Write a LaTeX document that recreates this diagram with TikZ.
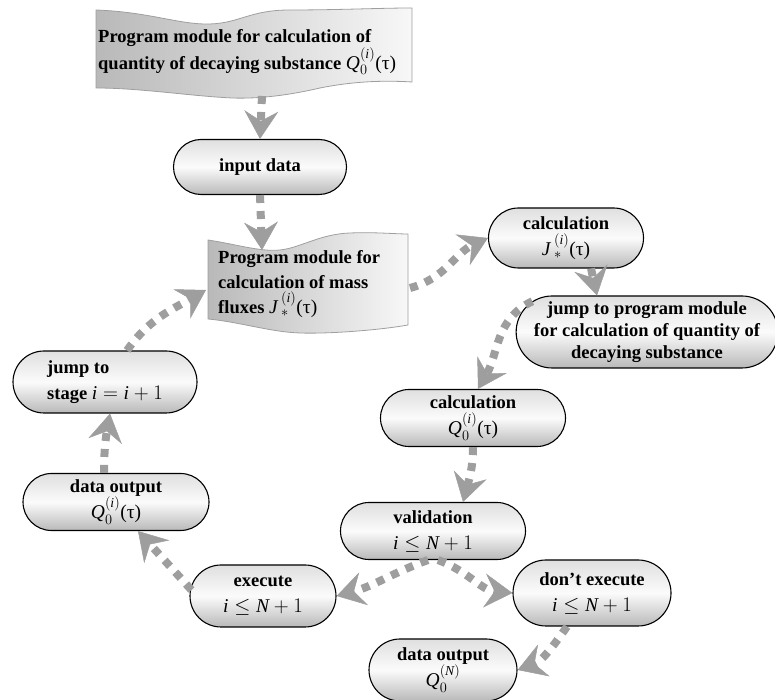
\documentclass[tikz,border=0pt]{standalone}
\usepackage{amsmath}
\usepackage{fontspec}
\setmainfont{Liberation Serif}
\usetikzlibrary{shapes.misc,arrows.meta,calc}
\definecolor{ag}{RGB}{158,158,158}
\newcommand{\mf}{\normalfont\fontsize{19.5}{24}\selectfont}
\newcommand{\mQ}{{\mf$\mathit{Q}_{0}^{(\mathit{i})}$(τ)}}
\newcommand{\mJ}{{\mf$\mathit{J}\mkern3mu{}_{*}^{(\mathit{i})}$(τ)}}
\newcommand{\mIN}{{\mf$\mathit{i}\le\mathit{N}+1$}}
\tikzset{
 pill/.style={rounded rectangle, draw=black, line width=1.1pt,
   top color=gray!25, bottom color=gray!55, middle color=gray!3,
   inner sep=1pt, align=center, font=\fontsize{18.5}{26}\selectfont\bfseries},
 flow/.style={draw=ag, line width=8pt, dash pattern=on 8pt off 8pt,
   -{Stealth[length=28pt,width=34pt,inset=10pt,line width=0.5pt]}},
 banner/.style={draw=gray!75, line width=0.8pt, left color=gray!55, right color=gray!6},
 btext/.style={align=left, inner sep=0pt, font=\fontsize{18.5}{25}\selectfont\bfseries},
}
\begin{document}
\begin{tikzpicture}[x=1pt,y=1pt]
\useasboundingbox (0,0) rectangle (775,700);
% banners
\path[banner] (96,690) .. controls (150,688) and (180,675) .. (210,676)
  .. controls (240,677) and (250,690) .. (290,690)
  .. controls (340,690) and (380,692) .. (412,692) -- (412,618)
  .. controls (380,620) and (350,618) .. (320,612)
  .. controls (290,605) and (260,601) .. (232,602)
  .. controls (190,604) and (140,612) .. (96,612) -- cycle;
\path[banner] (208,460) .. controls (235,456) and (260,448) .. (280,450)
  .. controls (300,452) and (320,466) .. (350,467)
  .. controls (375,468) and (395,466) .. (408,466) -- (408,375)
  .. controls (380,370) and (330,366) .. (300,367)
  .. controls (270,368) and (240,378) .. (208,381) -- cycle;
\node[btext, anchor=west] (toptext) at (98,648) {Program module for calculation of\\quantity of decaying substance \mQ};
\node[btext, anchor=west] (midtext) at (218,416) {Program module for\\calculation of mass\\fluxes \mJ};
\coordinate (topbot) at (262,604);
\coordinate (midtop) at (262,450);
\coordinate (midright) at (410,412);
\coordinate (midleft) at (206,410);
% pills
\node[pill, minimum width=175, minimum height=55] (input) at (260,533) {input data};
\node[pill, minimum width=157, minimum height=60] (calcJ) at (566,462) {calculation\\\mJ};
\node[pill, font=\fontsize{18.5}{22}\selectfont\bfseries, minimum width=250, minimum height=72] (jump) at (647,368) {jump to program module\\for calculation of quantity of\\decaying substance};
\node[pill, minimum width=187, minimum height=57] (calcQ) at (473,282) {calculation\\\mQ};
\node[pill, minimum width=187, minimum height=57] (valid) at (433,169) {validation\\\mIN};
\node[pill, minimum width=148, minimum height=62] (exec) at (263,104) {execute\\\mIN};
\node[pill, minimum width=160, minimum height=66] (dont) at (592,107) {don’t execute\\\mIN};
\node[pill, minimum width=150, minimum height=62] (outN) at (443,30) {data output\\{\mf$\mathit{Q}_{0}^{(\mathit{N})}$}};
\node[pill, minimum width=188, minimum height=57] (outI) at (116,198) {data output\\\mQ};
\node[pill, align=left, minimum width=186, minimum height=62] (stage) at (105,318) {jump to\\stage {\mf$\mathit{i}=\mathit{i}+1$}};
% connectors
\draw[flow] (topbot) -- (input.north);
\draw[flow] (input.south) -- (midtop);
\draw[flow] (midright) to[out=15,in=205] (calcJ.west);
\draw[flow] ($(calcJ.south)+(25,0)$) -- ($(jump.north)+(-50,0)$);
\draw[flow] (jump.165) to[out=205,in=60] ($(calcQ.north)+(5,0)$);
\draw[flow] (calcQ.south) to[out=-90,in=75] ($(valid.north)+(30,0)$);
\draw[flow] ($(valid.south)+(-5,0)$) to[out=200,in=15] (exec.east);
\draw[flow] ($(valid.south)+(5,0)$) to[out=-20,in=175] (dont.west);
\draw[flow] ($(dont.south)+(-25,0)$) to[out=235,in=20] (outN.east);
\draw[flow] ($(exec.west)+(2,6)$) -- ($(outI.south)+(22,0)$);
\draw[flow] ($(outI.north)+(-12,0)$) to[out=90,in=-100] ($(stage.south)+(5,0)$);
\draw[flow] ($(stage.north)+(22,0)$) to[out=55,in=210] (midleft);
\end{tikzpicture}
\end{document}
